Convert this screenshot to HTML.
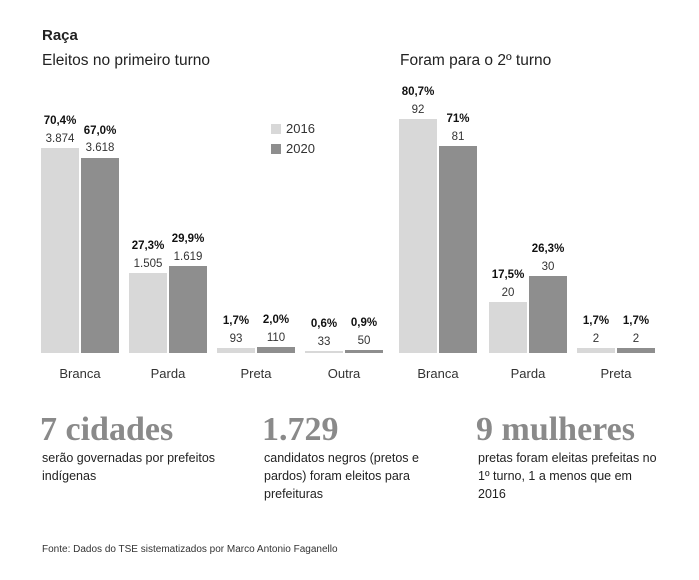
<!DOCTYPE html><html><head><style>
body{margin:0;width:699px;height:580px;background:#fff;font-family:"Liberation Sans",sans-serif;color:#222;position:relative;overflow:hidden}
.a{position:absolute;white-space:nowrap}
.b{position:absolute;bottom:227px}
.l{background:#d8d8d8}.d{background:#8e8e8e}
.p{position:absolute;font-size:11.5px;font-weight:bold;width:50px;text-align:center;color:#111}
.n{position:absolute;font-size:11.5px;width:50px;text-align:center;color:#333}
.c{position:absolute;top:366px;font-size:13px;width:80px;text-align:center;color:#333}
.big{position:absolute;top:411px;font-family:"Liberation Serif",serif;font-weight:bold;font-size:34px;color:#8a8a8a}
.t{position:absolute;top:449px;font-size:12.5px;line-height:18px;color:#222;width:200px}
</style></head><body>
<div class="a" style="left:42px;top:27px;font-weight:bold;font-size:15px">Raça</div>
<div class="a" style="left:42px;top:52px;font-size:15.5px">Eleitos no primeiro turno</div>
<div class="a" style="left:400px;top:52px;font-size:15.5px">Foram para o 2º turno</div>
<div class="a" style="left:271px;top:124px;width:10px;height:10px;background:#d8d8d8"></div>
<div class="a" style="left:286px;top:121px;font-size:13px;color:#333">2016</div>
<div class="a" style="left:271px;top:144px;width:10px;height:10px;background:#8e8e8e"></div>
<div class="a" style="left:286px;top:141px;font-size:13px;color:#333">2020</div>

<div class="b l" style="left:41px;width:38px;height:205px"></div>
<div class="b d" style="left:81px;width:38px;height:195px"></div>
<div class="b l" style="left:129px;width:38px;height:80px"></div>
<div class="b d" style="left:169px;width:38px;height:87px"></div>
<div class="b l" style="left:217px;width:38px;height:5px"></div>
<div class="b d" style="left:257px;width:38px;height:6px"></div>
<div class="b l" style="left:305px;width:38px;height:2px"></div>
<div class="b d" style="left:345px;width:38px;height:3px"></div>
<div class="b l" style="left:399px;width:38px;height:234px"></div>
<div class="b d" style="left:439px;width:38px;height:207px"></div>
<div class="b l" style="left:489px;width:38px;height:51px"></div>
<div class="b d" style="left:529px;width:38px;height:77px"></div>
<div class="b l" style="left:577px;width:38px;height:5px"></div>
<div class="b d" style="left:617px;width:38px;height:5px"></div>

<div class="p" style="left:35px;top:115px">70,4%</div><div class="n" style="left:35px;top:133px">3.874</div>
<div class="p" style="left:75px;top:125px">67,0%</div><div class="n" style="left:75px;top:142px">3.618</div>
<div class="p" style="left:123px;top:240px">27,3%</div><div class="n" style="left:123px;top:258px">1.505</div>
<div class="p" style="left:163px;top:233px">29,9%</div><div class="n" style="left:163px;top:251px">1.619</div>
<div class="p" style="left:211px;top:315px">1,7%</div><div class="n" style="left:211px;top:333px">93</div>
<div class="p" style="left:251px;top:314px">2,0%</div><div class="n" style="left:251px;top:332px">110</div>
<div class="p" style="left:299px;top:318px">0,6%</div><div class="n" style="left:299px;top:336px">33</div>
<div class="p" style="left:339px;top:317px">0,9%</div><div class="n" style="left:339px;top:335px">50</div>
<div class="p" style="left:393px;top:86px">80,7%</div><div class="n" style="left:393px;top:104px">92</div>
<div class="p" style="left:433px;top:113px">71%</div><div class="n" style="left:433px;top:131px">81</div>
<div class="p" style="left:483px;top:269px">17,5%</div><div class="n" style="left:483px;top:287px">20</div>
<div class="p" style="left:523px;top:243px">26,3%</div><div class="n" style="left:523px;top:261px">30</div>
<div class="p" style="left:571px;top:315px">1,7%</div><div class="n" style="left:571px;top:333px">2</div>
<div class="p" style="left:611px;top:315px">1,7%</div><div class="n" style="left:611px;top:333px">2</div>

<div class="c" style="left:40px">Branca</div>
<div class="c" style="left:128px">Parda</div>
<div class="c" style="left:216px">Preta</div>
<div class="c" style="left:304px">Outra</div>
<div class="c" style="left:398px">Branca</div>
<div class="c" style="left:488px">Parda</div>
<div class="c" style="left:576px">Preta</div>

<div class="big" style="left:40px">7 cidades</div>
<div class="big" style="left:262px">1.729</div>
<div class="big" style="left:476px">9 mulheres</div>
<div class="t" style="left:42px;width:190px">serão governadas por prefeitos indígenas</div>
<div class="t" style="left:264px;width:170px">candidatos negros (pretos e pardos) foram eleitos para prefeituras</div>
<div class="t" style="left:478px;width:182px">pretas foram eleitas prefeitas no 1º turno, 1 a menos que em 2016</div>
<div class="a" style="left:42px;top:544px;font-size:10px;color:#333">Fonte: Dados do TSE sistematizados por Marco Antonio Faganello</div>
</body></html>
